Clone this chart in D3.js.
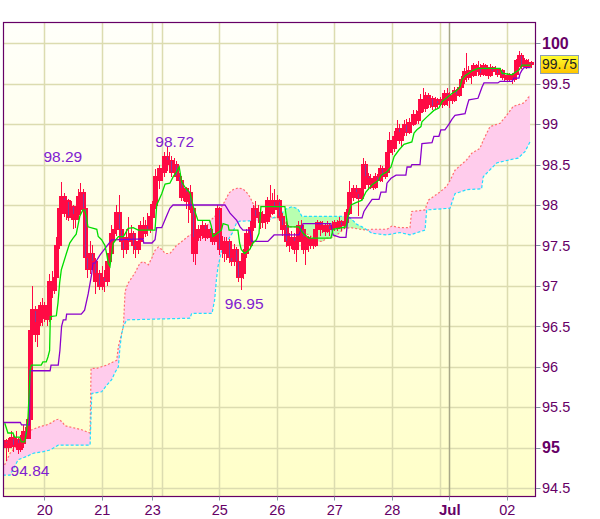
<!DOCTYPE html>
<html><head><meta charset="utf-8">
<script src="https://cdn.jsdelivr.net/npm/d3@7"></script>
<style>body{margin:0;background:#fff}svg{display:block}</style>
</head><body><svg id="c" width="600" height="519"></svg>
<script>
// ---------- DATA ----------
const opens=[95.08,95.00,95.05,95.12,95.02,95.10,94.98,95.05,95.20,95.12,95.35,96.45,96.70,96.40,96.55,96.75,96.60,96.75,96.58,97.05,
96.95,97.10,97.50,97.95,98.10,97.90,98.05,97.85,97.98,97.82,97.88,98.10,98.15,97.95,97.35,97.20,97.40,97.30,97.05,97.15,
97.00,97.10,97.05,97.30,97.40,97.65,97.70,97.90,97.70,97.55,97.45,97.60,97.55,97.65,97.50,97.45,97.55,97.75,97.65,97.75,
97.70,97.85,98.00,98.35,98.30,98.45,98.40,98.60,98.50,98.55,98.40,98.50,98.35,98.30,98.10,98.20,98.05,98.15,97.95,97.40,
97.60,97.70,97.62,97.75,97.60,97.70,97.65,97.55,97.60,97.95,97.45,97.55,97.40,97.55,97.35,97.30,97.45,97.30,97.10,97.15,
97.40,97.65,97.50,97.72,97.95,97.85,97.90,97.78,97.88,97.80,98.05,97.90,98.05,97.95,98.05,97.85,97.70,97.75,97.55,97.50,
97.60,97.45,97.55,97.75,97.70,97.45,97.60,97.50,97.58,97.50,97.70,97.78,97.70,97.75,97.68,97.75,97.70,97.72,97.78,97.72,
97.80,97.75,97.78,97.90,98.15,98.10,98.20,98.15,98.08,98.20,98.50,98.35,98.25,98.32,98.22,98.35,98.30,98.45,98.35,98.40,
98.65,98.80,98.70,98.85,98.95,98.80,98.90,99.00,98.90,99.02,99.00,99.12,99.05,99.15,99.30,99.20,99.35,99.25,99.32,99.22,
99.30,99.25,99.30,99.25,99.38,99.30,99.35,99.30,99.42,99.36,99.45,99.55,99.65,99.58,99.66,99.60,99.72,99.65,99.70,99.62,
99.72,99.66,99.60,99.70,99.65,99.68,99.62,99.66,99.58,99.60,99.55,99.60,99.56,99.62,99.78,99.85,99.72,99.78,99.72,99.76];
const highs=[95.10,95.12,95.20,95.15,95.20,95.12,95.15,95.28,95.25,95.45,96.50,97.00,96.75,96.65,96.80,96.85,96.80,96.78,97.15,97.18,
97.20,97.60,98.10,98.29,98.15,98.10,98.08,98.05,98.00,97.98,98.20,98.27,98.20,97.98,97.42,97.55,97.50,97.35,97.30,97.20,
97.25,97.20,97.40,97.48,97.75,97.88,98.00,98.12,97.80,97.60,97.70,97.85,97.75,97.68,97.55,97.60,97.80,97.85,97.82,97.90,
97.92,98.05,98.45,98.45,98.50,98.55,98.65,98.72,98.65,98.60,98.58,98.55,98.40,98.35,98.28,98.22,98.20,98.25,97.98,97.70,
97.75,97.75,97.80,97.78,97.75,97.72,97.68,97.65,98.00,97.98,97.62,97.60,97.60,97.58,97.50,97.52,97.48,97.35,97.30,97.45,
97.70,97.70,97.80,98.00,98.05,98.00,97.95,97.92,97.95,98.10,98.25,98.15,98.20,98.12,98.08,97.90,97.82,97.80,97.65,97.68,
97.65,97.60,97.80,97.82,97.75,97.68,97.62,97.62,97.60,97.75,97.82,97.80,97.80,97.78,97.80,97.78,97.80,97.82,97.82,97.85,
97.82,97.85,97.95,98.30,98.20,98.25,98.25,98.20,98.25,98.58,98.55,98.40,98.38,98.35,98.40,98.38,98.50,98.48,98.50,98.70,
98.90,98.85,98.92,99.05,99.00,98.95,99.05,99.06,99.08,99.10,99.17,99.18,99.20,99.37,99.45,99.40,99.38,99.36,99.35,99.33,
99.32,99.34,99.35,99.42,99.45,99.40,99.38,99.46,99.44,99.50,99.60,99.70,99.88,99.72,99.70,99.76,99.75,99.78,99.74,99.76,
99.75,99.70,99.74,99.72,99.72,99.70,99.70,99.68,99.64,99.63,99.63,99.62,99.65,99.80,99.90,99.88,99.82,99.80,99.80,99.78];
const lows=[94.84,94.95,95.00,94.95,94.98,94.92,94.95,95.00,95.05,95.10,95.30,96.35,96.30,96.25,96.50,96.50,96.55,96.50,96.55,96.85,
96.90,97.05,97.45,97.90,97.85,97.82,97.80,97.82,97.70,97.72,97.82,98.00,97.88,97.20,97.10,97.15,97.20,96.90,97.00,96.95,
96.95,96.92,97.00,97.25,97.38,97.55,97.62,97.60,97.45,97.35,97.40,97.45,97.50,97.40,97.35,97.40,97.50,97.58,97.60,97.62,
97.65,97.82,97.95,98.22,98.20,98.30,98.35,98.42,98.45,98.35,98.38,98.30,98.20,98.05,98.05,97.95,97.78,97.90,97.30,97.26,
97.55,97.55,97.58,97.55,97.58,97.55,97.50,97.50,97.55,97.38,97.35,97.30,97.32,97.28,97.25,97.25,97.20,97.05,96.95,97.08,
97.35,97.40,97.45,97.68,97.75,97.80,97.70,97.72,97.70,97.76,97.85,97.88,97.90,97.92,97.80,97.62,97.60,97.48,97.42,97.45,
97.40,97.30,97.50,97.60,97.40,97.26,97.42,97.45,97.45,97.48,97.65,97.62,97.65,97.62,97.65,97.62,97.65,97.68,97.68,97.70,
97.68,97.70,97.72,97.88,97.95,98.05,98.08,97.86,98.05,98.15,98.30,98.18,98.20,98.18,98.20,98.22,98.28,98.28,98.32,98.38,
98.60,98.62,98.65,98.80,98.75,98.72,98.85,98.85,98.88,98.92,98.98,99.00,99.00,99.10,99.15,99.15,99.20,99.20,99.18,99.18,
99.20,99.22,99.20,99.22,99.22,99.20,99.25,99.28,99.30,99.33,99.42,99.50,99.52,99.55,99.50,99.58,99.60,99.60,99.58,99.60,
99.60,99.56,99.58,99.60,99.62,99.58,99.60,99.54,99.52,99.52,99.52,99.50,99.52,99.60,99.72,99.68,99.70,99.68,99.70,99.70];
const closes=[95.00,95.05,95.12,95.02,95.10,94.98,95.05,95.20,95.12,95.35,96.45,96.70,96.40,96.55,96.75,96.60,96.75,96.58,97.05,96.95,
97.10,97.50,97.95,98.10,97.90,98.05,97.85,97.98,97.82,97.88,98.10,98.15,97.95,97.35,97.20,97.40,97.30,97.05,97.15,97.00,
97.10,97.05,97.30,97.40,97.65,97.70,97.90,97.70,97.55,97.45,97.60,97.55,97.65,97.50,97.45,97.55,97.75,97.65,97.75,97.70,
97.85,98.00,98.35,98.30,98.45,98.40,98.60,98.50,98.55,98.40,98.50,98.35,98.30,98.10,98.20,98.05,98.15,97.95,97.40,97.60,
97.70,97.62,97.75,97.60,97.70,97.65,97.55,97.60,97.95,97.45,97.55,97.40,97.55,97.35,97.30,97.45,97.30,97.10,97.15,97.40,
97.65,97.50,97.72,97.95,97.85,97.90,97.78,97.88,97.80,98.05,97.90,98.05,97.95,98.05,97.85,97.70,97.75,97.55,97.50,97.60,
97.45,97.55,97.75,97.70,97.45,97.60,97.50,97.58,97.50,97.70,97.78,97.70,97.75,97.68,97.75,97.70,97.72,97.78,97.72,97.80,
97.75,97.78,97.90,98.15,98.10,98.20,98.15,98.08,98.20,98.50,98.35,98.25,98.32,98.22,98.35,98.30,98.45,98.35,98.40,98.65,
98.80,98.70,98.85,98.95,98.80,98.90,99.00,98.90,99.02,99.00,99.12,99.05,99.15,99.30,99.20,99.35,99.25,99.32,99.22,99.30,
99.25,99.30,99.25,99.38,99.30,99.35,99.30,99.42,99.36,99.45,99.55,99.65,99.58,99.66,99.60,99.72,99.65,99.70,99.62,99.72,
99.66,99.60,99.70,99.65,99.68,99.62,99.66,99.58,99.60,99.55,99.60,99.56,99.62,99.78,99.85,99.72,99.78,99.72,99.76,99.75];

// Ichimoku lines: [bar index, value]
const tenkan=[[-0.5,95.3],[0.8,95.18],[2.9,95.18],[3.6,95.13],[5.7,95.13],[6.4,95.07],[7.8,95.07],[8.5,95.18],[9.2,95.38],[10.1,95.96],[10.6,96.02],[14.7,96.02],[15.4,96.06],[16.8,96.06],[17.5,96.12],[18.2,96.2],[18.5,96.62],[21,96.63],[21.7,96.79],[22.4,97.04],[23.1,97.2],[25.2,97.4],[26.6,97.53],[28,97.59],[29.3,97.64],[30.8,97.86],[32.1,97.94],[32.8,97.94],[33.5,97.86],[34.2,97.73],[37.9,97.7],[38.5,97.61],[39.9,97.57],[41.3,97.5],[42,97.4],[42.7,97.28],[43.4,97.24],[44.1,97.4],[44.8,97.53],[46.9,97.61],[49,97.61],[51,97.71],[53.1,97.72],[55.2,97.69],[62.2,97.69],[62.9,98.0],[65,98.14],[66.4,98.26],[68.4,98.27],[69.8,98.35],[71.2,98.41],[72.3,98.47],[73.3,98.29],[74.7,98.22],[76.8,98.15],[78.2,97.98],[80.1,97.81],[85,97.81],[85.7,97.74],[86.4,97.61],[89.9,97.69],[90.6,97.77],[92.7,97.75],[93.1,97.69],[96.8,97.69],[97.5,97.53],[98.2,97.45],[99.6,97.4],[101.7,97.45],[103.1,97.53],[104.5,97.57],[105.6,97.65],[106.4,97.98],[116.4,97.98],[117.6,97.73],[122.3,97.73],[124,97.65],[126.5,97.59],[135.6,97.59],[136.5,97.7],[141.9,97.73],[142.7,97.86],[144,98.0],[146.1,98.03],[148.6,98.06],[150.2,98.16],[152.8,98.25],[155.7,98.31],[156.5,98.37],[159,98.41],[160.7,98.47],[162,98.6],[164,98.68],[166.1,98.75],[169.4,98.78],[170.3,98.89],[171.5,98.93],[173.2,98.97],[173.6,99.03],[175.7,99.09],[178.6,99.17],[180.7,99.2],[182,99.28],[184.1,99.33],[186.1,99.38],[188.2,99.42],[189.5,99.46],[190.3,99.55],[191.6,99.6],[193.2,99.63],[194.5,99.66],[197,99.69],[206.2,99.69],[207,99.63],[211.2,99.61],[212.4,99.64],[214.1,99.67],[215.4,99.73],[219,99.73]];
const kijun=[[-1.2,95.31],[6,95.31],[6.5,95.28],[9.8,95.28],[10,95.95],[18.4,95.95],[18.8,96.02],[21.8,96.02],[22.5,96.2],[23.2,96.5],[23.9,96.58],[25,96.58],[25.3,96.65],[31.4,96.65],[32.8,96.7],[34.3,96.9],[35.8,97.15],[36.3,97.28],[37.1,97.28],[39.2,97.38],[44.1,97.57],[57.2,97.58],[57.5,97.53],[60.9,97.53],[62.2,97.57],[62.9,97.72],[65,97.72],[66.8,97.85],[68.4,97.96],[69.7,98.0],[91.4,98.0],[93.5,97.9],[96.3,97.81],[97.7,97.73],[98.9,97.69],[101.8,97.69],[102.5,97.55],[109.3,97.55],[111.9,97.63],[122.3,97.63],[124,97.77],[135.6,97.77],[136.5,97.63],[139.4,97.6],[141.9,97.6],[142.7,97.84],[148.6,97.84],[149.4,97.92],[150.7,97.98],[152.8,98.07],[155.7,98.07],[156.5,98.16],[158.6,98.16],[159,98.27],[160.7,98.33],[162.8,98.37],[166.9,98.37],[167.4,98.47],[169,98.47],[169.4,98.5],[172.8,98.5],[173.6,98.76],[177.8,98.77],[178.6,98.85],[180.7,98.85],[181.5,98.93],[183.2,98.93],[184.9,99.0],[186.1,99.06],[187.4,99.11],[191.6,99.13],[192.4,99.22],[193.2,99.3],[197,99.32],[198.7,99.46],[199.5,99.51],[205.3,99.51],[206.2,99.53],[211.2,99.53],[212,99.57],[214.1,99.57],[214.5,99.62],[215.4,99.67],[216.2,99.7],[219,99.7]];
const spanA=[[-1.3,94.74],[1.7,94.93],[3.8,95.0],[5.8,95.09],[10,95.21],[14.2,95.26],[17,95.28],[19.2,95.31],[20.5,95.34],[21.8,95.35],[23.4,95.32],[24.6,95.27],[28.8,95.24],[31.6,95.22],[35.1,95.18],[35.5,95.98],[37.9,95.98],[42,96.02],[46.2,96.08],[46.9,96.25],[48,96.38],[49,96.5],[49.7,96.93],[50.9,97.03],[51.8,97.07],[53.8,97.16],[55.9,97.28],[57.3,97.3],[59.4,97.26],[60.8,97.34],[62.2,97.44],[63.6,97.48],[65,97.45],[66.4,97.4],[68.4,97.4],[69.8,97.45],[71.2,97.5],[72.6,97.53],[76.7,97.63],[81,97.65],[83.1,97.7],[85.1,97.8],[88.5,97.9],[91.4,98.05],[93.1,98.15],[94.8,98.19],[96.8,98.21],[98.9,98.2],[100.6,98.15],[101.8,98.1],[103.1,98.02],[104.3,97.94],[106,97.9],[108.8,97.86],[112.7,97.84],[116.1,97.8],[117.6,97.73],[121.4,97.73],[122.4,97.67],[126.6,97.63],[129.4,97.55],[132.2,97.55],[133.6,97.59],[136.3,97.6],[139.1,97.65],[141.2,97.71],[144,97.72],[147.7,97.7],[150.7,97.69],[152.8,97.7],[159,97.7],[161.1,97.74],[164.4,97.72],[168.6,97.72],[169.3,97.92],[174.9,97.94],[176.3,98.06],[181.1,98.16],[183.9,98.23],[185.3,98.3],[187.4,98.43],[192.3,98.56],[194.4,98.64],[197.8,98.7],[199.2,98.8],[202,98.97],[206.2,99.01],[209,99.11],[211.7,99.22],[215.9,99.26],[217.3,99.3],[218.7,99.36]];
const spanB=[[-1.3,94.66],[1.7,94.66],[5.1,94.85],[8.6,94.89],[11.4,94.93],[15.6,94.95],[18.4,94.97],[21.8,95.03],[35.1,95.03],[35.8,95.67],[39.9,95.69],[42,95.77],[44.1,95.84],[45.5,95.93],[46.9,96.0],[47.6,96.25],[48.3,96.41],[49,96.5],[50.4,96.58],[76.8,96.6],[77.5,96.66],[86,96.66],[87.1,96.83],[87.8,97.07],[88.5,97.24],[89.9,97.42],[91.3,97.5],[92.7,97.57],[94.8,97.67],[96.1,97.77],[97.5,97.8],[109.3,97.81],[114.4,97.88],[116.9,97.95],[119.4,97.98],[121.9,97.95],[123.5,97.86],[142.7,97.86],[144.4,97.82],[146.5,97.76],[148.6,97.73],[150.7,97.69],[152.8,97.65],[159,97.63],[164.4,97.66],[168.6,97.63],[174.9,97.69],[175.6,97.94],[185.3,97.96],[187.4,98.14],[192.3,98.19],[198.5,98.2],[199.2,98.35],[204.8,98.52],[210.3,98.56],[213.8,98.58],[216.6,98.66],[218.7,98.78]];

const dayTickIdx=[16,40,61,89,113,137,161,185,209];
const dayTickLabels=["20","21","23","25","26","27","28","Jul","02"];
const extraGridIdx=[65,181];
const priceTicks=[94.5,95,95.5,96,96.5,97,97.5,98,98.5,99,99.5,100];
const extremeIdx=[23,67,98,0];
const extremeVal=[98.29,98.72,96.95,94.84];
const lastPrice=99.75;

// ---------- LAYOUT / STYLE ----------
const L=3.5,T=22.5,R=535.5,B=496.5;
const labelOffsets=[[1.7,-19.9],[8.2,0],[3.4,19.4],[24,15.5]];
const FONT='"Liberation Sans", Arial, sans-serif';
const AXC='#660066';
const RED='#ff0a44';

const svg=d3.select('#c');
const x=d3.scaleLinear().domain([0,219]).range([6,530.7]);
const y=d3.scaleLinear().domain([94.5,100]).range([488,43.3]);

const defs=svg.append('defs');
const grad=defs.append('linearGradient').attr('id','bg').attr('x1',0).attr('y1',0).attr('x2',0).attr('y2',1);
grad.append('stop').attr('offset','0%').attr('stop-color','#fffffa');
grad.append('stop').attr('offset','100%').attr('stop-color','#ffffc8');
const pg=defs.append('linearGradient').attr('id','pb').attr('x1',0).attr('y1',0).attr('x2',0).attr('y2',1);
pg.append('stop').attr('offset','0%').attr('stop-color','#ffff30');
pg.append('stop').attr('offset','100%').attr('stop-color','#ffc400');
defs.append('clipPath').attr('id','plot').append('rect').attr('x',L).attr('y',T).attr('width',R-L).attr('height',B-T);

const aBelow=d3.area().x(d=>x(d[0])).y0(d=>y(d[1])).y1(B+20);
const aAbove=d3.area().x(d=>x(d[0])).y0(T-20).y1(d=>y(d[1]));
defs.append('clipPath').attr('id','belowA').append('path').attr('d',aBelow(spanA));
defs.append('clipPath').attr('id','aboveA').append('path').attr('d',aAbove(spanA));

svg.append('rect').attr('x',L).attr('y',T).attr('width',R-L).attr('height',B-T).attr('fill','url(#bg)');

const g=svg.append('g').attr('clip-path','url(#plot)');
// grid
g.selectAll('.hg').data(priceTicks).enter().append('line')
 .attr('x1',L).attr('x2',R).attr('y1',d=>Math.round(y(d))+0.5).attr('y2',d=>Math.round(y(d))+0.5)
 .attr('stroke','#dcdcb0').attr('stroke-width',1.5);
const vgrid=dayTickIdx.concat(extraGridIdx);
g.selectAll('.vg').data(vgrid).enter().append('line')
 .attr('x1',d=>Math.round(x(d))+0.5).attr('x2',d=>Math.round(x(d))+0.5).attr('y1',T).attr('y2',B)
 .attr('stroke',d=>d===185?'#a8a888':'#dcdcb0').attr('stroke-width',1.5);

// cloud
g.append('g').attr('clip-path','url(#belowA)').append('path')
 .attr('d',d3.area().x(d=>x(d[0])).y0(T-20).y1(d=>y(d[1]))(spanB)).attr('fill','#ffccec');
g.append('g').attr('clip-path','url(#aboveA)').append('path')
 .attr('d',d3.area().x(d=>x(d[0])).y0(d=>y(d[1])).y1(B+20)(spanB)).attr('fill','#b8ffb0');
const ln=d3.line().x(d=>x(d[0])).y(d=>y(d[1]));
g.append('path').attr('d',ln(spanA)).attr('fill','none').attr('stroke','#ff6e6e').attr('stroke-width',1.2).attr('stroke-dasharray','2,2');
g.append('path').attr('d',ln(spanB)).attr('fill','none').attr('stroke','#22ddff').attr('stroke-width',1.2).attr('stroke-dasharray','3,2');

// candles
const cg=g.append('g').attr('shape-rendering','crispEdges');
closes.forEach((c,i)=>{
  const o=opens[i],h=highs[i],l=lows[i];
  const cx=Math.round(x(i));
  const top=y(Math.max(o,c)),bot=y(Math.min(o,c));
  cg.append('line').attr('x1',cx+0.5).attr('x2',cx+0.5).attr('y1',y(h)).attr('y2',y(l)).attr('stroke',RED).attr('stroke-width',1.2);
  cg.append('rect').attr('x',cx-1).attr('y',top).attr('width',3).attr('height',Math.max(1.5,bot-top))
    .attr('fill',c<o?'#7f3f9f':'none').attr('stroke',RED).attr('stroke-width',1.3);
});

g.append('path').attr('d',ln(kijun)).attr('fill','none').attr('stroke','#8a00cc').attr('stroke-width',1.3);
g.append('path').attr('d',ln(tenkan)).attr('fill','none').attr('stroke','#00dd00').attr('stroke-width',1.3);

// frame
svg.append('rect').attr('x',L).attr('y',T).attr('width',R-L).attr('height',B-T).attr('fill','none').attr('stroke',AXC).attr('stroke-width',1.2);

// y axis ticks & labels
svg.selectAll('.yt').data(priceTicks).enter().append('line')
 .attr('x1',R+0.5).attr('x2',R+5).attr('y1',d=>Math.round(y(d))+0.5).attr('y2',d=>Math.round(y(d))+0.5)
 .attr('stroke','#8090a0');
svg.selectAll('.yl').data(priceTicks).enter().append('text')
 .attr('x',542).attr('y',d=>y(d)).attr('dy','0.36em')
 .attr('font-family',FONT).attr('font-size',d=>(d%5===0)?16:14.5).attr('font-weight',d=>(d%5===0)?'bold':'normal')
 .attr('fill',AXC).text(d=>d3.format('')(d));

// x axis
svg.selectAll('.xt').data(dayTickIdx).enter().append('line')
 .attr('x1',d=>Math.round(x(d))+0.5).attr('x2',d=>Math.round(x(d))+0.5).attr('y1',B).attr('y2',B+4).attr('stroke','#8090a0');
svg.selectAll('.xl').data(dayTickIdx).enter().append('text')
 .attr('x',d=>x(d)+0.5).attr('y',515).attr('text-anchor','middle')
 .attr('font-family',FONT).attr('font-size',(d,i)=>dayTickLabels[i]==='Jul'?15:14.5)
 .attr('font-weight',(d,i)=>dayTickLabels[i]==='Jul'?'bold':'normal')
 .attr('fill',AXC).text((d,i)=>dayTickLabels[i]);

// extreme labels
svg.selectAll('.ex').data(extremeIdx).enter().append('text')
 .attr('x',(d,i)=>x(d)+labelOffsets[i][0]).attr('y',(d,i)=>y(extremeVal[i])+labelOffsets[i][1])
 .attr('text-anchor','middle').attr('font-family',FONT).attr('font-size',15.5)
 .attr('fill','#8020d0').text((d,i)=>extremeVal[i].toFixed(2));

// last price box
const py=y(lastPrice);
svg.append('rect').attr('x',540.5).attr('y',Math.round(py-9)+0.5).attr('width',38).attr('height',18)
 .attr('fill','url(#pb)').attr('stroke','#8ca0b4').attr('stroke-width',1);
svg.append('text').attr('x',559.5).attr('y',py).attr('dy','0.36em').attr('text-anchor','middle')
 .attr('font-family',FONT).attr('font-size',14).attr('fill','#222').text(lastPrice.toFixed(2));
</script>
</body></html>
